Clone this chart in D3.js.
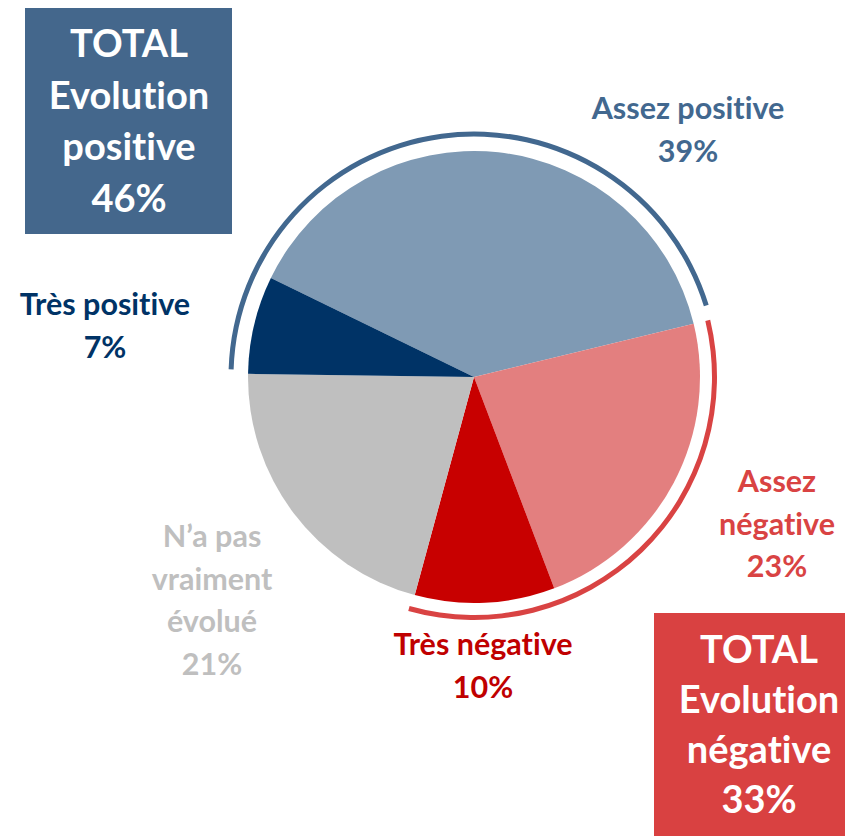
<!DOCTYPE html>
<html>
<head>
<meta charset="utf-8">
<script src="https://cdn.jsdelivr.net/npm/d3@7"></script>
<style>
  body { margin: 0; background: #fff; }
  svg { display: block; font-family: Lato, "Open Sans", sans-serif; font-weight: 700; font-variant-ligatures: none; }
</style>
</head>
<body>
<div id="chart"></div>
<script>
// Data
const categories = ["Assez positive", "Assez négative", "Très négative", "N’a pas vraiment évolué", "Très positive"];
const values = [39, 23, 10, 21, 7];
const labelLines = [
  ["Assez positive"],
  ["Assez", "négative"],
  ["Très négative"],
  ["N’a pas", "vraiment", "évolué"],
  ["Très positive"]
];
const positiveGroup = ["Très positive", "Assez positive"];
const negativeGroup = ["Assez négative", "Très négative"];

// Styles
const sliceColors = ["#7f9ab4", "#e37f7f", "#c80000", "#bfbfbf", "#003366"];
const labelColors = ["#42688f", "#d94343", "#c00000", "#bfbfbf", "#003366"];

const w = 845, h = 836;
const cx = 474, cy = 377;
const r = 226;

const svg = d3.select("#chart").append("svg")
  .attr("width", w)
  .attr("height", h);

const deg = Math.PI / 180;
const start = -64 * deg;

const pie = d3.pie()
  .sort(null)
  .value(d => d.value)
  .startAngle(start)
  .endAngle(start + 2 * Math.PI);

const data = categories.map((c, i) => ({ name: c, value: values[i], i: i }));
const arcs = pie(data);

const arc = d3.arc().innerRadius(0).outerRadius(r);

const g = svg.append("g").attr("transform", `translate(${cx},${cy})`);

g.selectAll("path.slice")
  .data(arcs)
  .enter()
  .append("path")
  .attr("class", "slice")
  .attr("d", arc)
  .attr("fill", d => sliceColors[d.data.i]);

// outer brackets for the two groups (names listed in clockwise order)
function groupRange(names) {
  const first = arcs.find(a => a.data.name === names[0]);
  const last = arcs.find(a => a.data.name === names[names.length - 1]);
  let s = first.startAngle;
  const e = last.endAngle;
  if (s > e) s -= 2 * Math.PI; // group wraps past the pie start
  return [s, e];
}
const pos = groupRange(positiveGroup);
const neg = groupRange(negativeGroup);

const ring = d3.arc();
g.append("path")
  .attr("d", ring({ innerRadius: 240.5, outerRadius: 245.5, startAngle: pos[0] + 1 * deg, endAngle: pos[1] - 3.5 * deg }))
  .attr("fill", "#42688f");
g.append("path")
  .attr("d", ring({ innerRadius: 238, outerRadius: 243, startAngle: neg[0], endAngle: neg[1] + 0.5 * deg }))
  .attr("fill", "#d94343");

// slice labels
const labelPos = [
  [688, 119],
  [777, 492],
  [483, 655],
  [212, 547],
  [105, 315]
];
const lineGap = 42.5;

arcs.forEach(a => {
  const i = a.data.i;
  const lines = labelLines[i].concat([a.data.value + "%"]);
  const t = svg.append("text")
    .attr("text-anchor", "middle")
    .attr("fill", labelColors[i])
    .style("font-size", "30.5px");
  lines.forEach((l, k) => {
    t.append("tspan")
      .attr("x", labelPos[i][0])
      .attr("y", labelPos[i][1] + k * lineGap)
      .text(l);
  });
});

// total boxes
const posTotal = d3.sum(arcs.filter(a => positiveGroup.includes(a.data.name)), a => a.data.value);
const negTotal = d3.sum(arcs.filter(a => negativeGroup.includes(a.data.name)), a => a.data.value);

function totalBox(x, y, bw, bh, color, lines, tx, ty, gap) {
  svg.append("rect")
    .attr("x", x).attr("y", y)
    .attr("width", bw).attr("height", bh)
    .attr("fill", color);
  const t = svg.append("text")
    .attr("text-anchor", "middle")
    .attr("fill", "#fff")
    .style("font-size", "38px");
  lines.forEach((l, k) => {
    t.append("tspan")
      .attr("x", tx)
      .attr("y", ty + k * gap)
      .text(l);
  });
}

totalBox(25, 8, 207, 226, "#44678c", ["TOTAL", "Evolution", "positive", posTotal + "%"], 129, 57, 51.7);
totalBox(654, 613, 210, 223, "#d94141", ["TOTAL", "Evolution", "négative", negTotal + "%"], 759, 663, 50);
</script>
</body>
</html>
